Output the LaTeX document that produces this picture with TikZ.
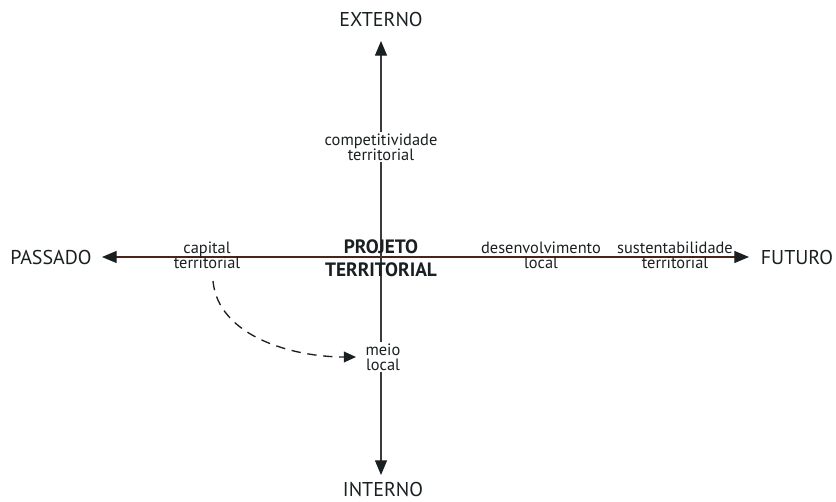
\documentclass[tikz,border=0pt]{standalone}
\usepackage{fontspec}
\setmainfont{PT Sans}
\usetikzlibrary{arrows.meta}
\definecolor{ink}{HTML}{1A2021}
\definecolor{axisbrown}{HTML}{4A2419}
\definecolor{axisgray}{HTML}{3A3A3A}
\begin{document}
\begin{tikzpicture}[x=0.75pt,y=-0.75pt,
  pole/.style={font=\fontsize{15}{18}\selectfont,text=ink,inner sep=1pt},
  tag/.style={font=\fontsize{12.3}{11.3}\selectfont,text=ink,align=center,inner sep=1pt},
  tagfill/.style={tag,fill=white},
  core/.style={font=\bfseries\fontsize{14.5}{17.5}\selectfont,text=ink,align=center,inner sep=0pt},
  axis/.style={line width=0.9pt,-{Triangle[length=11pt,width=9pt,color=ink]}},
]
\useasboundingbox (0,0) rectangle (836,502);

% poles
\node[pole] (ext) at (381,20) {EXTERNO};
\node[pole] (int) at (383,489) {INTERNO};
\node[pole] (pas) at (51,258) {PASSADO};
\node[pole] (fut) at (797,258) {FUTURO};
\coordinate (c) at (381,257);
\coordinate (top) at (381,41);
\coordinate (bot) at (381,475);
\coordinate (lft) at (102,257);
\coordinate (rgt) at (749,257);

% axes
\draw[axis,axisbrown] (c) -- (lft);
\draw[axis,axisbrown] (c) -- (rgt);
\draw[axis,axisgray] (c) -- (top);
\draw[axis,axisgray] (c) -- (bot);

% labels on the axes
\node[core] (pt) at (381,258) {PROJETO\\TERRITORIAL};
\node[tagfill] (comp) at (381,147) {competitividade\\territorial};
\node[tagfill] (meio) at (383,357) {meio\\local};
\node[tag] (cap) at (207,255) {capital\\territorial};
\node[tag] (des) at (541,255) {desenvolvimento\\local};
\node[tag] (sus) at (675,255) {sustentabilidade\\territorial};

% dashed link from capital territorial to meio local
\coordinate (d0) at (213,281);
\draw[line width=1pt,ink,dash pattern=on 7pt off 5pt,-{Triangle[length=9pt,width=8pt]}]
  (d0) .. controls (218,335) and (290,357) .. ([xshift=-6pt]meio.west);
\end{tikzpicture}
\end{document}
